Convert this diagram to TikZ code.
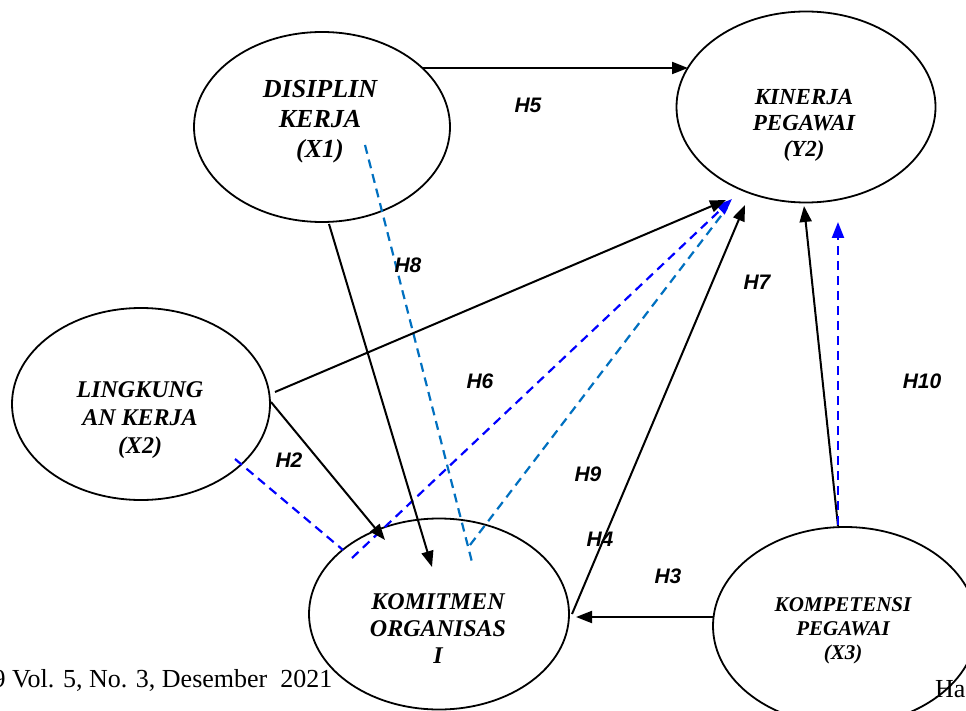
\documentclass[tikz,border=0pt]{standalone}
\usepackage{fontspec}
\setmainfont{Liberation Serif}
\newfontfamily\hfont{Liberation Sans}
\usetikzlibrary{arrows.meta,shapes.geometric}
\definecolor{lblue}{RGB}{0,112,192}
\definecolor{dblue}{RGB}{0,0,255}
\begin{document}
\begin{tikzpicture}[x=1pt,y=-1pt,
  ell/.style={draw=black, ellipse, line width=1.8pt, inner sep=0pt},
  vtxt/.style={anchor=base, align=center, inner sep=0pt, font=\bfseries\itshape},
  hlab/.style={inner sep=0pt, font=\hfont\bfseries\itshape\fontsize{21}{25}\selectfont},
  conn/.style={draw=black, line width=2pt, -{Triangle[length=16pt,width=12pt]}},
  bdash/.style={draw=dblue, line width=2.2pt, dash pattern=on 9pt off 6pt},
  ldash/.style={draw=lblue, line width=2.2pt, dash pattern=on 9pt off 6pt},
  barrow/.style={-{Triangle[length=16pt,width=12pt,fill=dblue]}}]
\useasboundingbox (0,0) rectangle (966,711);
\fill[white] (0,0) rectangle (966,711);

% ellipses
\node[ell, minimum width=256pt, minimum height=190pt] (X1) at (322,127) {};
\node[ell, minimum width=259pt, minimum height=191pt] (Y2) at (806,107) {};
\node[ell, minimum width=258pt, minimum height=192pt] (X2) at (141,404) {};
\node[ell, minimum width=260pt, minimum height=191pt] (Z) at (439,614) {};
\node[ell, minimum width=264pt, minimum height=198pt] (X3) at (845,626) {};

% texts (base anchor = baseline of last line)
\node[vtxt, font=\bfseries\itshape\fontsize{26}{30}\selectfont] (X1t) at (320,158) {DISIPLIN\\KERJA\\(X1)};
\node[vtxt, font=\bfseries\itshape\fontsize{23}{26}\selectfont] (Y2t) at (804,157) {KINERJA\\PEGAWAI\\(Y2)};
\node[vtxt, font=\bfseries\itshape\fontsize{24}{28}\selectfont] (X2t) at (140,453) {LINGKUNG\\AN KERJA\\(X2)};
\node[vtxt, font=\bfseries\itshape\fontsize{24}{27}\selectfont] (Zt) at (438,663) {KOMITMEN\\ORGANISAS\\I};
\node[vtxt, font=\bfseries\itshape\fontsize{21}{24}\selectfont] (X3t) at (843,659) {KOMPETENSI\\PEGAWAI\\(X3)};

% connector end points
\coordinate (a1) at (423,68);  \coordinate (a2) at (688,68);
\coordinate (b1) at (329,224); \coordinate (b2) at (432,567);
\coordinate (c1) at (275,392); \coordinate (c2) at (726,200);
\coordinate (d1) at (271,402); \coordinate (d2) at (385,540);
\coordinate (e1) at (572,614); \coordinate (e2) at (745,205);
\coordinate (f1) at (713,617); \coordinate (f2) at (576,617);
\coordinate (g1) at (838,526); \coordinate (g2) at (804,206);
\coordinate (h1) at (838,525); \coordinate (h2) at (838,222);
\coordinate (i1) at (235,459); \coordinate (i2) at (343,550);
\coordinate (j1) at (352,558); \coordinate (j2) at (732,199);
\coordinate (k1) at (365,145); \coordinate (k2) at (472,562);
\coordinate (l1) at (470,545); \coordinate (l2) at (727,208);

% dashed mediation lines
\draw[ldash] (k1) -- (k2);
\draw[ldash] (l1) -- (l2);
\draw[bdash] (i1) -- (i2);
\draw[bdash, barrow] (j1) -- (j2);

% solid connectors
\draw[conn] (a1) -- (a2);
\draw[conn] (b1) -- (b2);
\draw[conn] (c1) -- (c2);
\draw[conn] (d1) -- (d2);
\draw[conn] (e1) -- (e2);
\draw[conn] (f1) -- (f2);
\draw[conn] (g1) -- (g2);
\draw[bdash, barrow] (h1) -- (h2);

% hypothesis labels
\node[hlab] (H5) at (528,105) {H5};
\node[hlab] (H8) at (408,265) {H8};
\node[hlab] (H7) at (757,282) {H7};
\node[hlab] (H6) at (480,381) {H6};
\node[hlab] (H10) at (922,381) {H10};
\node[hlab] (H2) at (289,460) {H2};
\node[hlab] (H9) at (588,474) {H9};
\node[hlab] (H4) at (600,539) {H4};
\node[hlab] (H3) at (668,576) {H3};

% footer
\node[anchor=base west, inner sep=0pt, font=\fontsize{26}{30}\selectfont] (foot) at (-7.5,687) {9 Vol. 5, No. 3, Desember\ \ 2021};
\node[anchor=base west, inner sep=0pt, font=\fontsize{26}{30}\selectfont] (foot2) at (935,697) {Ha};
\end{tikzpicture}
\end{document}
